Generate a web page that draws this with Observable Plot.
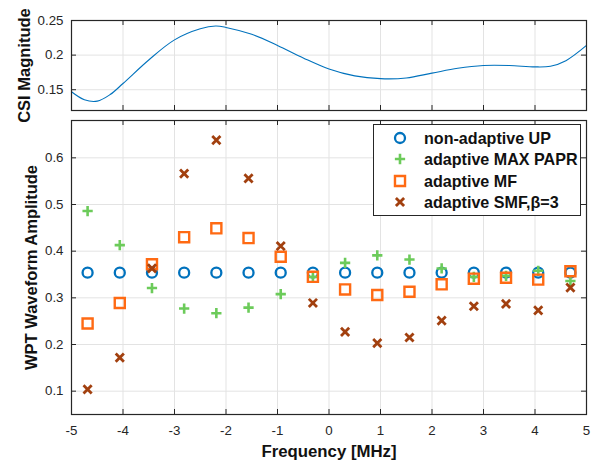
<!DOCTYPE html>
<html>
<head>
<meta charset="utf-8">
<script src="https://cdn.jsdelivr.net/npm/d3@7"></script>
<script src="https://cdn.jsdelivr.net/npm/@observablehq/plot@0.6"></script>
<style>
  html, body { margin: 0; padding: 0; background: #fff; }
  #wrap { position: relative; width: 597px; height: 464px; font-family: "Liberation Sans", Arial, sans-serif; }
  #wrap > svg { display: block; overflow: visible; }
  #legend { position: absolute; left: 373px; top: 124px; width: 206px; height: 90px; border: 1px solid #262626; background: #fff; box-sizing: content-box; }
  .row { position: absolute; left: 0; height: 20px; }
  .row svg { position: absolute; left: 16px; top: 0; }
  .row span { position: absolute; left: 50px; top: 0; white-space: nowrap; font-family: "Liberation Sans", Arial, sans-serif; font-weight: bold; font-size: 16.1px; color: #111; line-height: 20px; }
</style>
</head>
<body>
<div id="wrap"></div>
<script>
// ---- data ----
const xTicks = [-5, -4, -3, -2, -1, 0, 1, 2, 3, 4, 5];
const topYTicks = [0.15, 0.2, 0.25];
const botYTicks = [0.1, 0.2, 0.3, 0.4, 0.5, 0.6];

const csiFreq = [-5, -4.75, -4.5, -4.25, -4, -3.5, -3, -2.5, -2.2, -2, -1.5, -1, -0.5, 0, 0.5, 1, 1.5, 2, 2.5, 3, 3.5, 4, 4.3, 4.6, 5];
const csiMag  = [0.147, 0.1355, 0.1335, 0.143, 0.159, 0.193, 0.222, 0.238, 0.242, 0.240, 0.230, 0.214, 0.196, 0.180, 0.170, 0.166, 0.167, 0.174, 0.181, 0.185, 0.185, 0.183, 0.184, 0.192, 0.214];

const subFreq = [-4.6875, -4.0625, -3.4375, -2.8125, -2.1875, -1.5625, -0.9375, -0.3125, 0.3125, 0.9375, 1.5625, 2.1875, 2.8125, 3.4375, 4.0625, 4.6875];
const upAmp   = [0.354, 0.354, 0.354, 0.354, 0.354, 0.354, 0.354, 0.354, 0.354, 0.354, 0.354, 0.354, 0.354, 0.354, 0.354, 0.354];
const paprAmp = [0.486, 0.413, 0.321, 0.277, 0.267, 0.279, 0.308, 0.345, 0.375, 0.391, 0.382, 0.363, 0.345, 0.347, 0.358, 0.336];
const mfAmp   = [0.245, 0.289, 0.372, 0.430, 0.449, 0.428, 0.388, 0.345, 0.318, 0.306, 0.313, 0.329, 0.341, 0.343, 0.339, 0.357];
const smfAmp  = [0.104, 0.172, 0.363, 0.566, 0.638, 0.556, 0.411, 0.289, 0.227, 0.203, 0.215, 0.251, 0.282, 0.287, 0.273, 0.322];

const seriesNames = ["non-adaptive UP", "adaptive MAX PAPR", "adaptive MF", "adaptive SMF,\u03B2=3"];
const colors = { up: "#0072BD", papr: "#6CCB5A", mf: "#FF6A13", smf: "#A2400F" };

// ---- styling ----
const W = 597, ML = 71, MR = 11;
const FW = W - ML - MR;
const axisColor = "#262626";
const gridColor = "#e3e3e3";
const font = "Liberation Sans, Arial, sans-serif";

function boxTicks(yt, FH) {
  return [
    Plot.tickX(xTicks, {x: d => d, stroke: axisColor, insetBottom: FH - 5}),
    Plot.tickX(xTicks, {x: d => d, stroke: axisColor, insetTop: FH - 5}),
    Plot.tickY(yt, {y: d => d, stroke: axisColor, insetRight: FW - 5}),
    Plot.tickY(yt, {y: d => d, stroke: axisColor, insetLeft: FW - 5}),
  ];
}

const csi = csiFreq.map((f, i) => ({f, m: csiMag[i]}));
const pts = subFreq.map((f, i) => ({f, up: upAmp[i], papr: paprAmp[i], mf: mfAmp[i], smf: smfAmp[i]}));

const topH = 114, topMT = 20, topMB = 4;
const topPlot = Plot.plot({
  width: W, height: topH, marginTop: topMT, marginBottom: topMB, marginLeft: ML, marginRight: MR,
  style: {fontFamily: font, fontSize: "13.3px", color: axisColor, background: "transparent", overflow: "visible"},
  x: {domain: [-5, 5]},
  y: {domain: [0.12, 0.25]},
  marks: [
    Plot.gridX(xTicks, {stroke: gridColor, strokeOpacity: 1}),
    Plot.gridY(topYTicks, {stroke: gridColor, strokeOpacity: 1}),
    Plot.line(csi, {x: "f", y: "m", stroke: colors.up, strokeWidth: 1.1, curve: "catmull-rom"}),
    Plot.axisY(topYTicks, {tickSize: 0, tickPadding: 8, tickFormat: d => String(d), label: null, fill: axisColor}),
    Plot.axisX(xTicks, {tickSize: 0, tickFormat: () => "", label: null}),
    ...boxTicks(topYTicks, topH - topMT - topMB),
    Plot.frame({stroke: axisColor, strokeWidth: 1.2}),
    Plot.text(["CSI Magnitude"], {frameAnchor: "left", textAnchor: "middle", rotate: -90, dx: -47, fontWeight: "bold", fontSize: 16.5, fill: "#111", text: d => d})
  ]
});

const botH = 350, botMT = 6, botMB = 50;
const botPlot = Plot.plot({
  width: W, height: botH, marginTop: botMT, marginBottom: botMB, marginLeft: ML, marginRight: MR,
  style: {fontFamily: font, fontSize: "13.3px", color: axisColor, background: "transparent", overflow: "visible"},
  x: {domain: [-5, 5]},
  y: {domain: [0.05, 0.68]},
  marks: [
    Plot.gridX(xTicks, {stroke: gridColor, strokeOpacity: 1}),
    Plot.gridY(botYTicks, {stroke: gridColor, strokeOpacity: 1}),
    Plot.dot(pts, {x: "f", y: "up", r: 5, stroke: colors.up, strokeWidth: 2.3, fill: "none"}),
    Plot.dot(pts, {x: "f", y: "papr", symbol: "plus", r: 3.4, stroke: colors.papr, strokeWidth: 2.6}),
    Plot.dot(pts, {x: "f", y: "mf", symbol: "square2", r: 6.4, stroke: colors.mf, strokeWidth: 2.4, fill: "none"}),
    Plot.dot(pts, {x: "f", y: "smf", symbol: "times", r: 3.8, stroke: colors.smf, strokeWidth: 2.8}),
    Plot.axisY(botYTicks, {tickSize: 0, tickPadding: 8, tickFormat: d => String(d), label: null, fill: axisColor}),
    Plot.axisX(xTicks, {tickSize: 0, tickPadding: 11, tickFormat: d => String(d), label: null, fill: axisColor}),
    ...boxTicks(botYTicks, botH - botMT - botMB),
    Plot.frame({stroke: axisColor, strokeWidth: 1.2}),
    Plot.text(["WPT Waveform Amplitude"], {frameAnchor: "left", textAnchor: "middle", rotate: -90, dx: -40, fontWeight: "bold", fontSize: 16.5, fill: "#111", text: d => d}),
    Plot.text(["Frequency [MHz]"], {frameAnchor: "bottom", dy: 42, fontWeight: "bold", fontSize: 16.8, fill: "#111", text: d => d})
  ]
});

const wrap = document.getElementById("wrap");
wrap.appendChild(topPlot);
wrap.appendChild(botPlot);

// ---- legend ----
const legend = document.createElement("div");
legend.id = "legend";
const symbols = [
  {name: seriesNames[0], sym: d3.symbolCircle, r: 5, color: colors.up, sw: 2.3},
  {name: seriesNames[1], sym: d3.symbolPlus, r: 3.4, color: colors.papr, sw: 2.6},
  {name: seriesNames[2], sym: d3.symbolSquare2, r: 6.4, color: colors.mf, sw: 2.4},
  {name: seriesNames[3], sym: d3.symbolTimes, r: 3.8, color: colors.smf, sw: 2.8},
];
symbols.forEach((s, i) => {
  const row = document.createElement("div");
  row.className = "row";
  row.style.top = (3 + i * 21.3) + "px";
  const svg = d3.create("svg").attr("width", 20).attr("height", 20);
  svg.append("path").attr("transform", "translate(10,10)")
    .attr("d", d3.symbol(s.sym, s.r * s.r * Math.PI)())
    .attr("fill", "none").attr("stroke", s.color).attr("stroke-width", s.sw);
  row.appendChild(svg.node());
  const span = document.createElement("span");
  span.textContent = s.name;
  row.appendChild(span);
  legend.appendChild(row);
});
wrap.appendChild(legend);
</script>
</body>
</html>
